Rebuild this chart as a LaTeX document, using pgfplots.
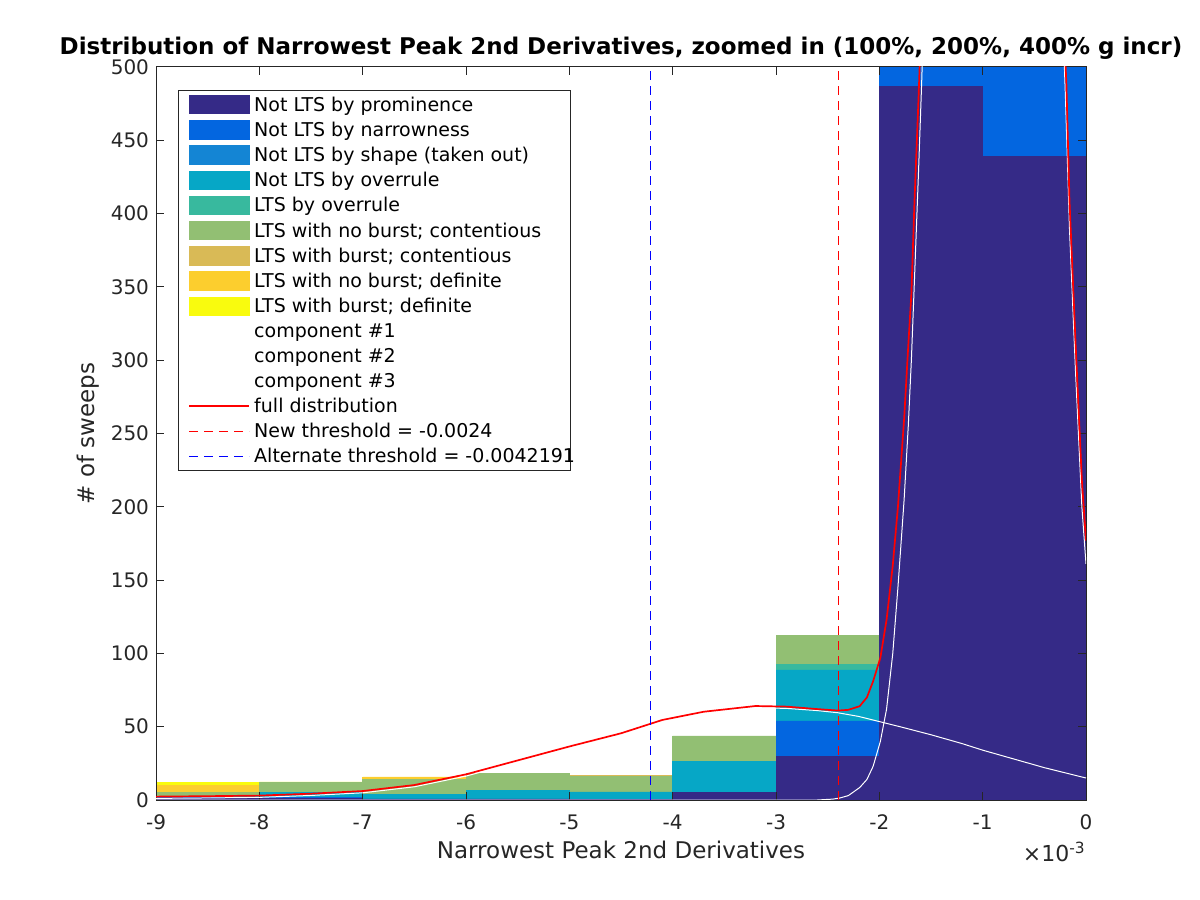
\documentclass[border=0pt]{standalone}
\usepackage{pgfplots}
\pgfplotsset{compat=1.18}
\usepackage{fontspec}
\setmainfont{DejaVu Sans}
\definecolor{c1}{HTML}{352A87}
\definecolor{c2}{HTML}{0366E0}
\definecolor{c3}{HTML}{1485D4}
\definecolor{c4}{HTML}{06A7C6}
\definecolor{c5}{HTML}{38B99E}
\definecolor{c6}{HTML}{92BF73}
\definecolor{c7}{HTML}{D9BA56}
\definecolor{c8}{HTML}{FCCE2E}
\definecolor{c9}{HTML}{F9FB0E}
\definecolor{mred}{HTML}{FF0000}
\definecolor{mblue}{HTML}{0000FF}
\definecolor{axgray}{HTML}{262626}
\pgfplotsset{
  barleg/.style={legend image code/.code={\filldraw[##1, line width=0.4bp] (0bp,-4.6bp) rectangle (30bp,4.6bp);}},
  common/.style={at={(78bp,50bp)}, anchor=south west, scale only axis,
    width=465bp, height=366.5bp, xmin=-9, xmax=0, ymin=0, ymax=500},
  bar/.style={fill=#1, draw=#1, line width=0.4bp}
}
\begin{document}
\begin{tikzpicture}
\path[use as bounding box] (0,0) rectangle (600bp,450bp);
\begin{axis}[common, hide axis, ybar stacked, bar width=1, bar shift=0pt]
\addplot[bar=c1] coordinates {(-8.5,1) (-7.5,1) (-6.5,0.7) (-5.5,0.7) (-4.5,0.3) (-3.5,5) (-2.5,30) (-1.5,487) (-0.5,439)};
\addplot[bar=c2] coordinates {(-8.5,0.5) (-7.5,1) (-6.5,0) (-5.5,0) (-4.5,0) (-3.5,0) (-2.5,23.9) (-1.5,200) (-0.5,200)};
\addplot[bar=c3] coordinates {(-8.5,0) (-7.5,0) (-6.5,0) (-5.5,0) (-4.5,0) (-3.5,0) (-2.5,0) (-1.5,0) (-0.5,0)};
\addplot[bar=c4] coordinates {(-8.5,0.8) (-7.5,3) (-6.5,2.9) (-5.5,6.1) (-4.5,5.2) (-3.5,21.1) (-2.5,34.8) (-1.5,0) (-0.5,0)};
\addplot[bar=c5] coordinates {(-8.5,0) (-7.5,0) (-6.5,0) (-5.5,0) (-4.5,0) (-3.5,0) (-2.5,4.1) (-1.5,0) (-0.5,0)};
\addplot[bar=c6] coordinates {(-8.5,2.7) (-7.5,7) (-6.5,10.7) (-5.5,11.4) (-4.5,10.4) (-3.5,17.6) (-2.5,19.5) (-1.5,0) (-0.5,0)};
\addplot[bar=c7] coordinates {(-8.5,0) (-7.5,0) (-6.5,0) (-5.5,0) (-4.5,1.1) (-3.5,0) (-2.5,0) (-1.5,0) (-0.5,0)};
\addplot[bar=c8] coordinates {(-8.5,4.8) (-7.5,0) (-6.5,1.4) (-5.5,0) (-4.5,0) (-3.5,0) (-2.5,0) (-1.5,0) (-0.5,0)};
\addplot[bar=c9] coordinates {(-8.5,2.0) (-7.5,0.3) (-6.5,0) (-5.5,0) (-4.5,0) (-3.5,0) (-2.5,0) (-1.5,0) (-0.5,0)};
\end{axis}
\begin{axis}[common,
  axis line style={color=axgray, line width=0.5bp},
  tick style={color=axgray, line width=0.5bp},
  major tick length=4bp, tick align=inside,
  xtick={-9,-8,-7,-6,-5,-4,-3,-2,-1,0},
  xticklabels={-9,-8,-7,-6,-5,-4,-3,-2,-1,0},
  ytick={0,50,100,150,200,250,300,350,400,450,500},
  yticklabels={0,50,100,150,200,250,300,350,400,450,500},
  ticklabel style={font=\fontsize{10bp}{12bp}\selectfont, text=axgray},
  xticklabel style={yshift=-4bp},
  xlabel={Narrowest Peak 2nd Derivatives},
  ylabel={\# of sweeps},
  label style={font=\fontsize{11.5bp}{13bp}\selectfont, text=axgray},
  xlabel style={yshift=1.5bp},
  ylabel style={yshift=-1bp},
  title={Distribution of Narrowest Peak 2nd Derivatives, zoomed in (100\%, 200\%, 400\% g incr)},
  title style={font=\bfseries\fontsize{11.5bp}{13bp}\selectfont, yshift=-5.5bp},
  legend cell align=left,
  legend style={at={(0.0237,0.9686)}, anchor=north west, draw=axgray, line width=0.5bp,
    font=\fontsize{9.5bp}{11bp}\selectfont, row sep=3bp, inner xsep=5bp, inner ysep=2.2bp,
    nodes={inner xsep=2bp, inner ysep=0bp, text height=8bp, text depth=1.5bp}},
  clip=true]
\addlegendimage{barleg, bar=c1}\addlegendentry{Not LTS by prominence}
\addlegendimage{barleg, bar=c2}\addlegendentry{Not LTS by narrowness}
\addlegendimage{barleg, bar=c3}\addlegendentry{Not LTS by shape (taken out)}
\addlegendimage{barleg, bar=c4}\addlegendentry{Not LTS by overrule}
\addlegendimage{barleg, bar=c5}\addlegendentry{LTS by overrule}
\addlegendimage{barleg, bar=c6}\addlegendentry{LTS with no burst; contentious}
\addlegendimage{barleg, bar=c7}\addlegendentry{LTS with burst; contentious}
\addlegendimage{barleg, bar=c8}\addlegendentry{LTS with no burst; definite}
\addlegendimage{barleg, bar=c9}\addlegendentry{LTS with burst; definite}
\addplot[draw=white, line width=0.5bp,
  legend image code/.code={\draw[draw=white, line width=0.5bp] (0bp,0bp) -- (30bp,0bp);}] coordinates {(-9,1.1) (-8.5,1.4) (-8,1.8) (-7.5,3.1) (-7,4.9) (-6.5,9) (-6,16.3) (-5.5,25.8) (-5,35.3) (-4.5,44.3) (-4.1,53.4) (-3.7,59) (-3.2,62.9) (-2.9,62.5) (-2.6,61) (-2.4,59.5) (-2.2,57) (-2,53.5) (-1.8,50) (-1.5,44.5) (-1.2,38.5) (-1,34) (-0.7,28) (-0.4,22) (0,15)};
\addlegendentry{component \#1}
\addplot[draw=white, line width=0.5bp,
  legend image code/.code={\draw[draw=white, line width=0.5bp] (0bp,0bp) -- (30bp,0bp);}] coordinates {(-9,0) (-2.6,0) (-2.45,0.6) (-2.38,1.4) (-2.3,3) (-2.19,8.5) (-2.12,14) (-2.06,23) (-1.99,40) (-1.93,62) (-1.87,100) (-1.82,145) (-1.76,205) (-1.72,255) (-1.69,300) (-1.66,355) (-1.62,430) (-1.59,490) (-1.55,580) (-0.25,580) (-0.2,482) (-0.16,390) (-0.1,290) (-0.04,200) (0,161)};
\addlegendentry{component \#2}
\addplot[draw=white, line width=0.5bp,
  legend image code/.code={\draw[draw=white, line width=0.5bp] (0bp,0bp) -- (30bp,0bp);}] coordinates {(-9,0) (0,0)};
\addlegendentry{component \#3}
\addplot[draw=mred, line width=0.85bp,
  legend image code/.code={\draw[draw=mred, line width=0.85bp] (0bp,0bp) -- (30bp,0bp);}] coordinates {(-9,2.3) (-8.5,2.6) (-8,3.0) (-7.5,4.3) (-7,6.1) (-6.5,10.2) (-6,17.5) (-5.5,27) (-5,36.5) (-4.5,45.5) (-4.1,54.6) (-3.7,60.2) (-3.2,64.1) (-2.9,63.7) (-2.6,62) (-2.4,61) (-2.3,61.5) (-2.19,64) (-2.12,70) (-2.06,81) (-1.99,97) (-1.93,123) (-1.87,160) (-1.82,200) (-1.76,260) (-1.72,310) (-1.69,345) (-1.66,408) (-1.62,480) (-1.59,540) (-1.55,620) (-0.25,620) (-0.21,520) (-0.19,489) (-0.16,409) (-0.1,310) (-0.04,218) (0,177)};
\addlegendentry{full distribution}
\addplot[draw=mred, line width=0.5bp, dash pattern=on 4.5bp off 3bp,
  legend image code/.code={\draw[draw=mred, line width=0.5bp, dash pattern=on 4.5bp off 3bp] (0bp,0bp) -- (30bp,0bp);}] coordinates {(-2.4,0) (-2.4,500)};
\addlegendentry{New threshold = -0.0024}
\addplot[draw=mblue, line width=0.5bp, dash pattern=on 4.5bp off 3bp,
  legend image code/.code={\draw[draw=mblue, line width=0.5bp, dash pattern=on 4.5bp off 3bp] (0bp,0bp) -- (30bp,0bp);}] coordinates {(-4.2191,0) (-4.2191,500)};
\addlegendentry{\makebox[151bp][l]{Alternate threshold = -0.0042191}}
\end{axis}
\node[anchor=north east, font=\fontsize{11bp}{13bp}\selectfont, text=axgray, inner sep=0pt] at (543bp,29bp) {×10\textsuperscript{-3}};
\end{tikzpicture}
\end{document}
